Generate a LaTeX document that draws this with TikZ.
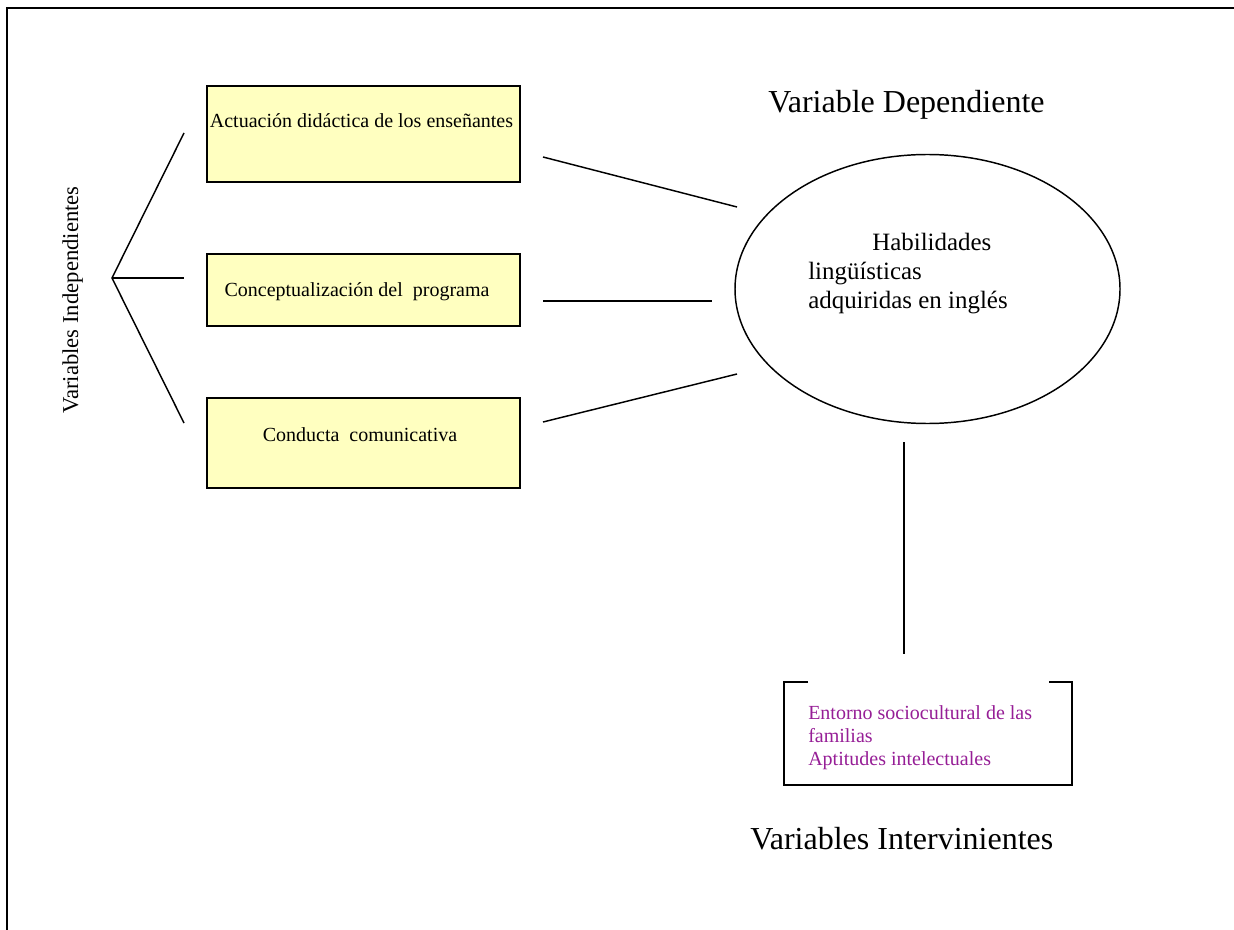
\documentclass[tikz,border=0pt]{standalone}
\usepackage{fontspec}
\setmainfont{Liberation Serif}
\usetikzlibrary{shapes.geometric}
\definecolor{boxfill}{RGB}{255,255,192}
\definecolor{violeta}{RGB}{150,30,150}
\tikzset{
  varbox/.style={draw=black, line width=1.1pt, fill=boxfill, minimum width=234.75pt, inner sep=0pt},
  conn/.style={line width=1.1pt, black},
  boxtext/.style={font=\fontsize{15}{18}\selectfont, inner sep=0pt},
  elltext/.style={font=\fontsize{18.7}{22}\selectfont, inner sep=0pt, anchor=base west},
  inttext/.style={font=\fontsize{15}{17}\selectfont, text=violeta, inner sep=0pt, anchor=base west},
  title/.style={font=\fontsize{24}{28}\selectfont, inner sep=0pt, anchor=base west}
}
\begin{document}
\begin{tikzpicture}[x=0.75pt,y=-0.75pt]
\useasboundingbox (0,0) rectangle (1234,930);
% frame
\draw[line width=1.5pt] (7,930) -- (7,8) -- (1234,8);
% boxes
\node[varbox, minimum height=72pt] (b1) at (363.5,134) {};
\node[varbox, minimum height=54pt] (b2) at (363.5,290) {};
\node[varbox, minimum height=67.5pt] (b3) at (363.5,443) {};
\node[boxtext, anchor=base] (t1) at (361.5,128) {Actuación didáctica de los enseñantes};
\node[boxtext, anchor=base] (t2) at (357,297) {Conceptualización del\ \ programa};
\node[boxtext, anchor=base] (t3) at (360,441) {Conducta\ \ comunicativa};
% fork
\coordinate (apex) at (112,278);
\coordinate (f1) at (184,133);
\coordinate (f2) at (184,278);
\coordinate (f3) at (184,423);
\draw[conn] (f1) -- (apex) -- (f3);
\draw[conn] (apex) -- (f2);
\node[font=\fontsize{17}{20}\selectfont, rotate=90, anchor=base, inner sep=0pt] (vi) at (78,300) {Variables Independientes};
% ellipse
\node[draw, ellipse, line width=1.1pt, minimum width=288.75pt, minimum height=201.75pt, inner sep=0pt] (ell) at (927.5,289) {};
\node[elltext] (e1) at (872,251) {Habilidades};
\node[elltext] (e2) at (808,280) {lingüísticas};
\node[elltext] (e3) at (808,309) {adquiridas en inglés};
\node[title] (vd) at (768,113) {Variable Dependiente};
% connectors boxes -> ellipse
\coordinate (s1) at (543,157);
\coordinate (s2) at (543,301);
\coordinate (s3) at (543,422);
\coordinate (d1) at (737,207);
\coordinate (d2) at (712,301);
\coordinate (d3) at (737,374);
\draw[conn] (s1) -- (d1);
\draw[conn] (s2) -- (d2);
\draw[conn] (s3) -- (d3);
% vertical connector
\coordinate (vtop) at (904,442);
\coordinate (vbot) at (904,654);
\draw[conn] (vtop) -- (vbot);
% bracket box
\draw[line width=1.5pt] (808,682) -- (784,682) -- (784,785) -- (1072,785) -- (1072,682) -- (1049,682);
\node[inttext] (i1) at (808,719) {Entorno sociocultural de las};
\node[inttext] (i2) at (808,742) {familias};
\node[inttext] (i3) at (808,765) {Aptitudes intelectuales};
\node[title] (vint) at (750,849) {Variables Intervinientes};
\end{tikzpicture}
\end{document}
